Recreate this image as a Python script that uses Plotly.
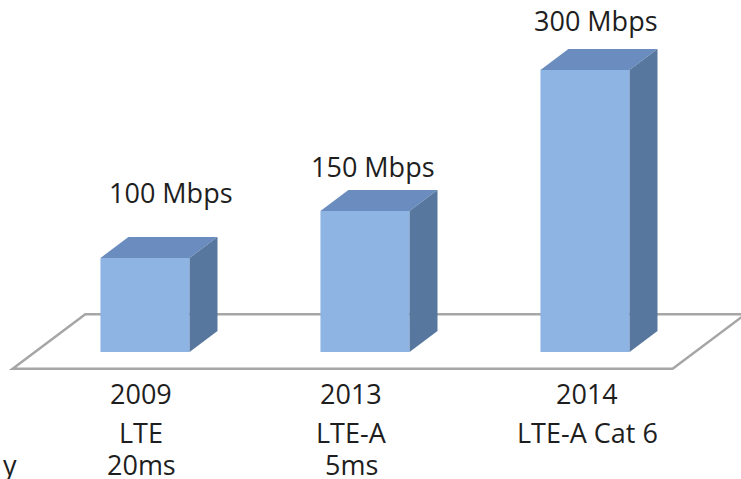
import plotly.graph_objects as go

# ---- data ----
years = ["2009", "2013", "2014"]
technologies = ["LTE", "LTE-A", "LTE-A Cat 6"]
latencies = ["20ms", "5ms", ""]
speeds_mbps = [100, 150, 300]
speed_labels = [f"{v} Mbps" for v in speeds_mbps]

# ---- pseudo-3D geometry (data units) ----
BAR_W = 0.405          # bar front width in category units
DEPTH_DX = 0.127       # horizontal shift of one depth unit
DEPTH_DY = 22.3        # vertical shift of one depth unit (in Mbps units)
FLOOR_FRONT = -0.8     # floor front edge (depth units)
FLOOR_BACK = 1.8       # floor back edge (depth units)

FRONT = "#8DB4E3"
TOP = "#6A8CBF"
SIDE = "#57779F"
FLOOR_LINE = "#A6A6A6"
FONT = "Open Sans"
FONT_SIZE = 27
TEXT = "#1E1E1E"

xs = list(range(len(years)))

fig = go.Figure()

# floor (drawn below everything)
x0, x1 = -0.5, len(years) - 0.5
pts = [
    (x0 + FLOOR_FRONT * DEPTH_DX, FLOOR_FRONT * DEPTH_DY),
    (x1 + FLOOR_FRONT * DEPTH_DX, FLOOR_FRONT * DEPTH_DY),
    (x1 + FLOOR_BACK * DEPTH_DX, FLOOR_BACK * DEPTH_DY),
    (x0 + FLOOR_BACK * DEPTH_DX, FLOOR_BACK * DEPTH_DY),
]
path = "M " + " L ".join(f"{px},{py}" for px, py in pts) + " Z"
fig.add_shape(type="path", path=path, xref="x", yref="y", layer="below",
              fillcolor="white", line=dict(color=FLOOR_LINE, width=2.5))

# front faces
fig.add_trace(go.Bar(x=xs, y=speeds_mbps, width=BAR_W, marker=dict(color=FRONT, line=dict(width=0)),
                     hoverinfo="skip", showlegend=False))

# top and side faces
for x, v in zip(xs, speeds_mbps):
    xl, xr = x - BAR_W / 2, x + BAR_W / 2
    fig.add_trace(go.Scatter(
        x=[xl, xr, xr + DEPTH_DX, xl + DEPTH_DX, xl],
        y=[v, v, v + DEPTH_DY, v + DEPTH_DY, v],
        mode="lines", fill="toself", fillcolor=TOP, line=dict(width=0, color=TOP),
        hoverinfo="skip", showlegend=False))
    fig.add_trace(go.Scatter(
        x=[xr, xr + DEPTH_DX, xr + DEPTH_DX, xr, xr],
        y=[0, DEPTH_DY, v + DEPTH_DY, v, 0],
        mode="lines", fill="toself", fillcolor=SIDE, line=dict(width=0, color=SIDE),
        hoverinfo="skip", showlegend=False))

# value labels
value_shift = [(26, 66), (8, 45), (11, 50)]
for x, v, lab, (sx, sy) in zip(xs, speeds_mbps, speed_labels, value_shift):
    fig.add_annotation(x=x, y=v, text=lab, showarrow=False, xshift=sx, yshift=sy,
                       font=dict(family=FONT, size=FONT_SIZE, color=TEXT))

# category labels
cat_shift = [-4, -14, 2]
for x, yr, tech, lat, sx in zip(xs, years, technologies, latencies, cat_shift):
    for txt, sy in ((yr, -41), (tech, -80), (lat, -112)):
        if txt:
            fig.add_annotation(x=x, y=0, text=txt, showarrow=False, xshift=sx, yshift=sy,
                               height=30,
                               font=dict(family=FONT, size=FONT_SIZE, color=TEXT))

# cut-off row title at the far left
fig.add_annotation(x=0, y=0, xref="paper", yref="y", text="y", showarrow=False,
                   xanchor="left", xshift=1, yshift=-112, height=30,
                   font=dict(family=FONT, size=FONT_SIZE, color=TEXT))

fig.update_layout(
    width=741, height=479,
    margin=dict(l=0, r=0, t=0, b=0),
    paper_bgcolor="white", plot_bgcolor="white",
    xaxis=dict(range=[-145 / 220, 596 / 220], visible=False, fixedrange=True),
    yaxis=dict(range=[-127 / 0.94, 352 / 0.94], visible=False, fixedrange=True),
    showlegend=False,
)

fig.write_html("out.html", config={"displayModeBar": False},
               post_script="document.body.style.margin='0';document.body.style.overflow='hidden';")
